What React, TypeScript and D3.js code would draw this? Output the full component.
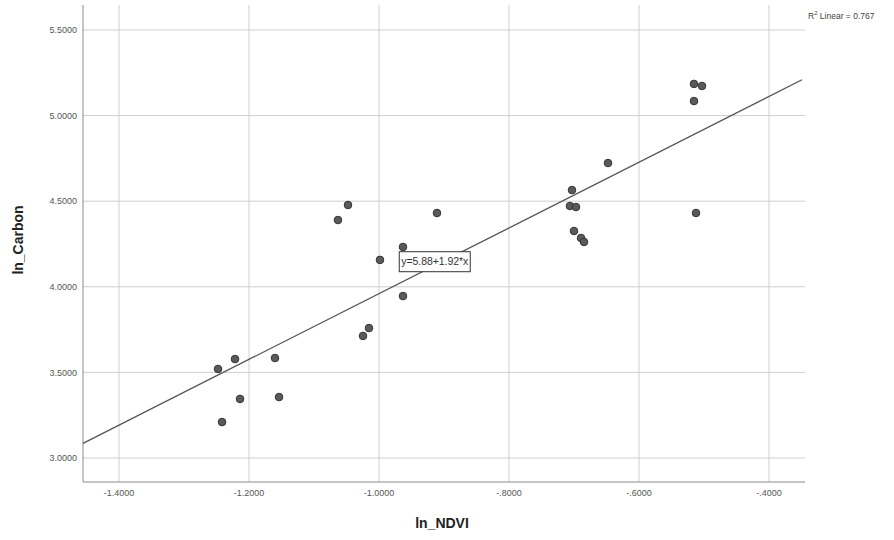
import React, { useEffect, useRef } from "react";
import * as d3 from "d3";

// ln_NDVI (x) and ln_Carbon (y)
const lnNDVI = [
  -1.2477, -1.2215, -1.2415, -1.2138, -1.16, -1.1538,
  -1.0631, -1.0477, -0.9985, -0.9108, -0.9631, -0.9631, -1.0246, -1.0154,
  -0.7031, -0.7062, -0.6969, -0.7, -0.6892, -0.6846, -0.6477,
  -0.5154, -0.5031, -0.5154, -0.5123,
];
const lnCarbon = [
  3.52, 3.578, 3.21, 3.345, 3.584, 3.356,
  4.39, 4.478, 4.157, 4.431, 4.2325, 3.946, 3.713, 3.759,
  4.565, 4.472, 4.466, 4.326, 4.285, 4.262, 4.723,
  5.185, 5.173, 5.085, 4.431,
];

const xTicks = [-1.4, -1.2, -1.0, -0.8, -0.6, -0.4];
const yTicks = [3.0, 3.5, 4.0, 4.5, 5.0, 5.5];

// fit line y = a + b*x as labelled on the chart
const intercept = 5.88;
const slope = 1.92;
const rSquared = 0.767;

const App = () => {
  const chartRef = useRef<SVGSVGElement | null>(null);

  useEffect(() => {
    const width = 894;
    const height = 540;
    const left = 83;
    const right = 805;
    const top = 5;
    const bottom = 482;

    const svg = d3.select(chartRef.current);
    svg.selectAll("*").remove();

    const x = d3
      .scaleLinear()
      .domain([-1.4 - 36 / 650, -0.4 + 36 / 650])
      .range([left, right]);
    const y = d3.scaleLinear().domain([5.5, 3.0]).range([30, 458]);

    const font = "'Liberation Sans', Arial, sans-serif";

    svg.append("rect").attr("width", width).attr("height", height).attr("fill", "#fff");

    // grid lines
    svg
      .append("g")
      .selectAll("line")
      .data(xTicks)
      .join("line")
      .attr("x1", (d) => x(d))
      .attr("x2", (d) => x(d))
      .attr("y1", top)
      .attr("y2", bottom)
      .attr("stroke", "#cfcfcf")
      .attr("stroke-width", 1);

    svg
      .append("g")
      .selectAll("line")
      .data(yTicks)
      .join("line")
      .attr("x1", left)
      .attr("x2", right)
      .attr("y1", (d) => y(d))
      .attr("y2", (d) => y(d))
      .attr("stroke", "#cfcfcf")
      .attr("stroke-width", 1);

    // axes
    svg
      .append("line")
      .attr("x1", left)
      .attr("x2", left)
      .attr("y1", top)
      .attr("y2", bottom)
      .attr("stroke", "#8a8a8a");
    svg
      .append("line")
      .attr("x1", left)
      .attr("x2", right)
      .attr("y1", bottom)
      .attr("y2", bottom)
      .attr("stroke", "#8a8a8a");

    // tick labels
    svg
      .append("g")
      .selectAll("text")
      .data(yTicks)
      .join("text")
      .attr("x", left - 6)
      .attr("y", (d) => y(d))
      .attr("dy", "0.35em")
      .attr("text-anchor", "end")
      .attr("font-family", font)
      .attr("font-size", 9)
      .attr("fill", "#555")
      .text((d) => d.toFixed(4));

    svg
      .append("g")
      .selectAll("text")
      .data(xTicks)
      .join("text")
      .attr("x", (d) => x(d))
      .attr("y", bottom + 14)
      .attr("text-anchor", "middle")
      .attr("font-family", font)
      .attr("font-size", 9)
      .attr("fill", "#555")
      .text((d) => {
        const s = d.toFixed(4);
        return s.replace("-0.", "-.");
      });

    // axis titles
    svg
      .append("text")
      .attr("x", 442)
      .attr("y", 528)
      .attr("text-anchor", "middle")
      .attr("font-family", font)
      .attr("font-size", 14)
      .attr("font-weight", "bold")
      .attr("fill", "#222")
      .text("ln_NDVI");

    svg
      .append("text")
      .attr("transform", `translate(23,240) rotate(-90)`)
      .attr("text-anchor", "middle")
      .attr("font-family", font)
      .attr("font-size", 14)
      .attr("font-weight", "bold")
      .attr("fill", "#222")
      .text("ln_Carbon");

    // regression line
    const x0 = x.domain()[0];
    const x1 = -0.4 + 33 / 650;
    svg
      .append("line")
      .attr("x1", x(x0))
      .attr("y1", y(intercept + slope * x0))
      .attr("x2", x(x1))
      .attr("y2", y(intercept + slope * x1))
      .attr("stroke", "#555")
      .attr("stroke-width", 1.3);

    // points
    svg
      .append("g")
      .selectAll("circle")
      .data(lnNDVI.map((v, i) => ({ v, c: lnCarbon[i] })))
      .join("circle")
      .attr("cx", (d) => x(d.v))
      .attr("cy", (d) => y(d.c))
      .attr("r", 3.8)
      .attr("fill", "#5a5a5a")
      .attr("stroke", "#333")
      .attr("stroke-width", 1);

    // equation label on the line
    const lx = -0.915;
    const ly = intercept + slope * lx;
    const label = svg.append("g").attr("transform", `translate(${x(lx)},${y(ly) - 4})`);
    label
      .append("rect")
      .attr("x", -35)
      .attr("y", -10)
      .attr("width", 71)
      .attr("height", 20)
      .attr("fill", "#fff")
      .attr("stroke", "#333")
      .attr("stroke-width", 1);
    label
      .append("text")
      .attr("x", -33)
      .attr("y", 0)
      .attr("dy", "0.35em")
      .attr("font-family", font)
      .attr("font-size", 10.5)
      .attr("textLength", 67)
      .attr("fill", "#333")
      .text(`y=${intercept.toFixed(2)}+${slope.toFixed(2)}*x`);

    // R² legend
    const leg = svg
      .append("text")
      .attr("x", 808)
      .attr("y", 19)
      .attr("font-family", font)
      .attr("font-size", 8.5)
      .attr("fill", "#444");
    leg.append("tspan").text("R");
    leg.append("tspan").attr("dy", -4).attr("font-size", 6).text("2");
    leg.append("tspan").attr("dy", 4).text(` Linear = ${rSquared}`);
  }, []);

  return (
    <svg
      ref={chartRef}
      width={894}
      height={540}
      style={{ position: "absolute", left: 0, top: 0, display: "block" }}
    />
  );
};

export default App;
